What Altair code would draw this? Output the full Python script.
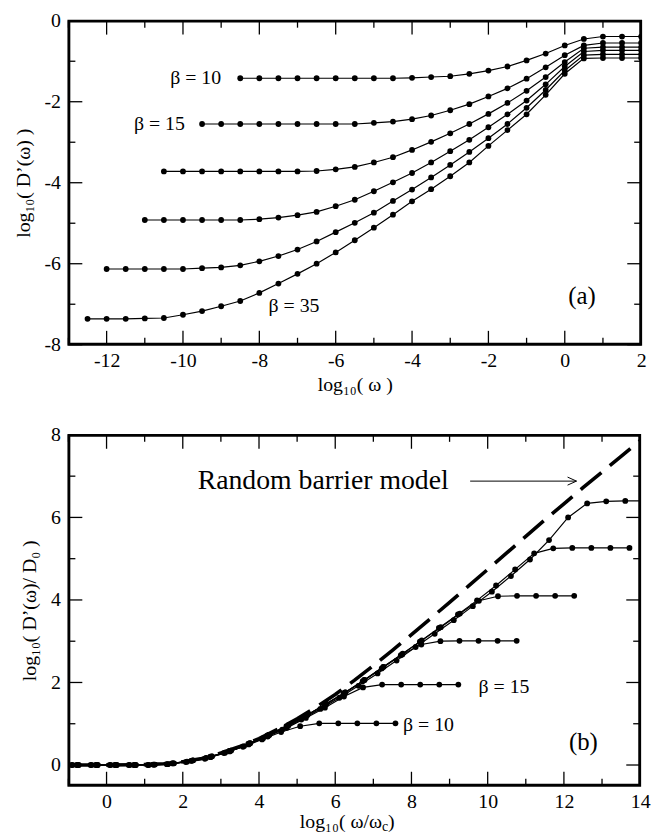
import altair as alt
import pandas as pd

FONT = "Liberation Serif"

# ---------------- Panel (a): log10 D'(w) vs log10 w ----------------
betas = [10, 15, 20, 25, 30, 35]

a_x10 = [-8.5, -8, -7.5, -7, -6.5, -6, -5.5, -5, -4.5, -4, -3.5, -3, -2.5, -2, -1.5, -1, -0.5, 0, 0.5, 1, 1.5, 2]
a_y10 = [-1.42, -1.42, -1.42, -1.42, -1.42, -1.42, -1.42, -1.42, -1.42, -1.41, -1.39, -1.37, -1.31, -1.23,
         -1.13, -0.98, -0.81, -0.61, -0.45, -0.39, -0.39, -0.39]

a_x15 = [-9.5, -9, -8.5, -8, -7.5, -7, -6.5, -6, -5.5, -5, -4.5, -4, -3.5, -3, -2.5, -2, -1.5, -1, -0.5, 0,
         0.5, 1, 1.5, 2]
a_y15 = [-2.55, -2.55, -2.55, -2.55, -2.55, -2.55, -2.55, -2.55, -2.55, -2.52, -2.49, -2.43, -2.34, -2.21,
         -2.06, -1.87, -1.67, -1.43, -1.15, -0.85, -0.61, -0.55, -0.55, -0.55]

a_x20 = [-10.5, -10, -9.5, -9, -8.5, -8, -7.5, -7, -6.5, -6, -5.5, -5, -4.5, -4, -3.5, -3, -2.5, -2, -1.5, -1,
         -0.5, 0, 0.5, 1, 1.5, 2]
a_y20 = [-3.72, -3.72, -3.72, -3.72, -3.72, -3.72, -3.72, -3.72, -3.71, -3.67, -3.61, -3.50, -3.37, -3.19,
         -2.99, -2.78, -2.55, -2.30, -2.03, -1.73, -1.39, -1.02, -0.68, -0.65, -0.65, -0.65]

a_x25 = [-11, -10.5, -10, -9.5, -9, -8.5, -8, -7.5, -7, -6.5, -6, -5.5, -5, -4.5, -4, -3.5, -3, -2.5, -2, -1.5,
         -1, -0.5, 0, 0.5, 1, 1.5, 2]
a_y25 = [-4.92, -4.92, -4.92, -4.92, -4.92, -4.92, -4.90, -4.86, -4.80, -4.72, -4.58, -4.42, -4.21, -3.99,
         -3.76, -3.50, -3.22, -2.94, -2.63, -2.31, -1.97, -1.57, -1.13, -0.76, -0.73, -0.73, -0.73]

a_x30 = [-12, -11.5, -11, -10.5, -10, -9.5, -9, -8.5, -8, -7.5, -7, -6.5, -6, -5.5, -5, -4.5, -4, -3.5, -3,
         -2.5, -2, -1.5, -1, -0.5, 0, 0.5, 1, 1.5, 2]
a_y30 = [-6.13, -6.13, -6.13, -6.13, -6.13, -6.11, -6.09, -6.04, -5.94, -5.81, -5.65, -5.45, -5.22, -4.99,
         -4.74, -4.45, -4.17, -3.87, -3.56, -3.24, -2.90, -2.55, -2.15, -1.71, -1.23, -0.85, -0.83, -0.83, -0.83]

a_x35 = [-12.5, -12, -11.5, -11, -10.5, -10, -9.5, -9, -8.5, -8, -7.5, -7, -6.5, -6, -5.5, -5, -4.5, -4, -3.5,
         -3, -2.5, -2, -1.5, -1, -0.5, 0, 0.5, 1, 1.5, 2]
a_y35 = [-7.36, -7.36, -7.36, -7.35, -7.34, -7.26, -7.17, -7.05, -6.92, -6.72, -6.49, -6.25, -6.00, -5.72,
         -5.42, -5.11, -4.79, -4.46, -4.16, -3.84, -3.50, -3.09, -2.70, -2.31, -1.83, -1.31, -0.93, -0.92,
         -0.92, -0.92]

a_labels = ["β = 10", "β = 15", "β = 35", "(a)"]
a_label_x = [-9.0, -9.95, -7.76, 0.45]
a_label_y = [-1.42, -2.55, -7.04, -6.8]
a_label_align = ["right", "right", "left", "center"]
a_label_size = [20, 20, 20, 25]

a_xmajor = [-12, -10, -8, -6, -4, -2, 0, 2]
a_xminor = [-13, -11, -9, -7, -5, -3, -1, 1]
a_ymajor = [0, -2, -4, -6, -8]
a_yminor = [-1, -3, -5, -7]

# ---------------- Panel (b): scaled curves ----------------
b_x10 = [-1.42, -0.92, -0.42, 0.08, 0.58, 1.08, 1.58, 2.08, 2.58, 3.08, 3.58, 4.08, 4.58, 5.08, 5.58, 6.08,
         6.58, 7.08, 7.58]
b_y10 = [0, 0, 0, 0, 0, 0, 0.02, 0.07, 0.15, 0.29, 0.44, 0.62, 0.80, 0.94, 1.01, 1.01, 1.01, 1.01, 1.01]

b_x15 = [-1.27, -0.77, -0.27, 0.23, 0.73, 1.23, 1.73, 2.23, 2.73, 3.23, 3.73, 4.23, 4.73, 5.23, 5.73, 6.23,
         6.73, 7.23, 7.73, 8.23, 8.73, 9.23]
b_y15 = [0, 0, 0, 0, 0, 0.01, 0.04, 0.10, 0.19, 0.33, 0.50, 0.69, 0.90, 1.14, 1.39, 1.66, 1.88, 1.95, 1.95,
         1.95, 1.95, 1.95]

b_x20 = [-1.24, -0.74, -0.24, 0.26, 0.76, 1.26, 1.76, 2.26, 2.76, 3.26, 3.76, 4.26, 4.76, 5.26, 5.76, 6.26,
         6.76, 7.26, 7.76, 8.26, 8.76, 9.26, 9.76, 10.26, 10.76]
b_y20 = [0, 0, 0, 0, 0, 0.01, 0.04, 0.11, 0.21, 0.35, 0.53, 0.73, 0.96, 1.21, 1.48, 1.76, 2.06, 2.38, 2.68,
         2.92, 3.00, 3.01, 3.01, 3.01, 3.01]

b_x25 = [-1.23, -0.73, -0.23, 0.27, 0.77, 1.27, 1.77, 2.27, 2.77, 3.27, 3.77, 4.27, 4.77, 5.27, 5.77, 6.27,
         6.77, 7.27, 7.77, 8.27, 8.77, 9.27, 9.77, 10.27, 10.77, 11.27, 11.77, 12.27]
b_y25 = [0, 0, 0, 0, 0, 0.01, 0.04, 0.11, 0.21, 0.35, 0.53, 0.73, 0.96, 1.21, 1.48, 1.76, 2.06, 2.38, 2.70,
         3.02, 3.34, 3.67, 3.98, 4.09, 4.10, 4.10, 4.10, 4.10]

b_x30 = [-1.28, -0.78, -0.28, 0.22, 0.72, 1.22, 1.72, 2.22, 2.72, 3.22, 3.72, 4.22, 4.72, 5.22, 5.72, 6.22,
         6.72, 7.22, 7.72, 8.22, 8.72, 9.22, 9.72, 10.22, 10.72, 11.22, 11.72, 12.22, 12.72, 13.22, 13.72]
b_y30 = [0, 0, 0, 0, 0, 0.01, 0.04, 0.10, 0.20, 0.34, 0.52, 0.72, 0.94, 1.19, 1.46, 1.74, 2.03, 2.34, 2.66,
         2.99, 3.32, 3.65, 3.99, 4.35, 4.74, 5.13, 5.25, 5.26, 5.26, 5.26, 5.26]

b_x35 = [-1.39, -0.89, -0.39, 0.11, 0.61, 1.11, 1.61, 2.11, 2.61, 3.11, 3.61, 4.11, 4.61, 5.11, 5.61, 6.11,
         6.61, 7.11, 7.61, 8.11, 8.61, 9.11, 9.61, 10.11, 10.61, 11.11, 11.61, 12.11, 12.61, 13.11, 13.61, 14.11]
b_y35 = [0, 0, 0, 0, 0, 0, 0.02, 0.08, 0.17, 0.30, 0.46, 0.65, 0.86, 1.10, 1.36, 1.63, 1.92, 2.22, 2.53, 2.86,
         3.18, 3.51, 3.85, 4.20, 4.58, 4.98, 5.45, 6.00, 6.34, 6.39, 6.40, 6.40]

rbm_x = [-1, 0, 1, 1.5, 2, 2.5, 3, 3.5, 4, 4.5, 5, 5.5, 6, 6.5, 7, 7.5, 8, 8.5, 9, 9.5, 10, 10.5, 11, 11.5,
         12, 12.5, 13, 13.5, 14]
rbm_y = [0, 0, 0.01, 0.03, 0.08, 0.16, 0.29, 0.45, 0.64, 0.87, 1.12, 1.40, 1.71, 2.05, 2.41, 2.78, 3.16,
         3.55, 3.94, 4.34, 4.74, 5.14, 5.54, 5.94, 6.33, 6.72, 7.10, 7.48, 7.86]

b_labels = ["Random barrier model", "β = 15", "β = 10", "(b)"]
b_label_x = [2.39, 9.76, 7.78, 12.51]
b_label_y = [6.87, 1.9, 0.97, 0.56]
b_label_align = ["left", "left", "left", "center"]
b_label_size = [28, 20, 20, 25]

arrow_x = [9.54]
arrow_x2 = [12.33]
arrow_y = [6.88]

b_xmajor = [0, 2, 4, 6, 8, 10, 12, 14]
b_xminor = [-1, 1, 3, 5, 7, 9, 11, 13]
b_ymajor = [0, 2, 4, 6, 8]
b_yminor = [1, 3, 5, 7]

# ---------------- helpers ----------------
W1, H1 = 578, 327
W2, H2 = 577, 354
MAJ, MIN = 14, 7

AX = dict(ticks=False, tickSize=0, domain=False, grid=False, labelFont=FONT, labelFontSize=20,
          labelColor="black", titleFont=FONT, titleFontSize=20, titleFontWeight="normal",
          titleColor="black", labelExpr="'' + datum.value", labelOverlap=False, labelFlush=False)


def long_df(xs_list, ys_list):
    rows = []
    for b, xs, ys in zip(betas, xs_list, ys_list):
        for x, y in zip(xs, ys):
            rows.append({"beta": b, "x": x, "y": y})
    return pd.DataFrame(rows)


def panel(df, xdom, ydom, xmaj, xmin, ymaj, ymin, xtitle, ytitle, W, H, labels, lx, ly, lal, lsz,
          xlabpad, xtitlepad, extra=None):
    X = lambda f: alt.X(f"{f}:Q", scale=alt.Scale(domain=xdom, nice=False, zero=False),
                        axis=alt.Axis(values=xmaj, title=xtitle, labelPadding=xlabpad,
                                      titlePadding=xtitlepad, **AX))
    Y = lambda f: alt.Y(f"{f}:Q", scale=alt.Scale(domain=ydom, nice=False, zero=False),
                        axis=alt.Axis(values=ymaj, title=ytitle, labelPadding=8, titlePadding=11, **AX))

    layers = []
    # plot frame: closed polyline drawn just inside the domain corners
    ex = (xdom[1] - xdom[0]) / W * 0.8
    ey = (ydom[1] - ydom[0]) / H * 0.8
    frame = pd.DataFrame({
        "x": [xdom[0] + ex, xdom[0] + ex, xdom[1] - ex, xdom[1] - ex, xdom[0] + ex],
        "y": [ydom[0] + ey, ydom[1] - ey, ydom[1] - ey, ydom[0] + ey, ydom[0] + ey],
        "k": [0, 1, 2, 3, 4],
    })
    layers.append(alt.Chart(frame).mark_line(color="black", strokeWidth=2.2, strokeCap="square",
                                             strokeJoin="miter").encode(
        x=X("x"), y=Y("y"), order="k:Q"))

    ticks_x = pd.DataFrame({"v": xmaj + xmin, "L": [MAJ] * len(xmaj) + [MIN] * len(xmin)})
    ticks_y = pd.DataFrame({"v": ymaj + ymin, "L": [MAJ] * len(ymaj) + [MIN] * len(ymin)})
    for L in [MAJ, MIN]:
        tx = ticks_x[ticks_x["L"] == L]
        ty = ticks_y[ticks_y["L"] == L]
        rule = alt.Chart(tx).mark_rule(color="black", strokeWidth=1.3)
        layers.append(rule.encode(x=X("v"), y=alt.value(H), y2=alt.value(H - L)))
        layers.append(rule.encode(x=X("v"), y=alt.value(0), y2=alt.value(L)))
        ruley = alt.Chart(ty).mark_rule(color="black", strokeWidth=1.3)
        layers.append(ruley.encode(y=Y("v"), x=alt.value(0), x2=alt.value(L)))
        layers.append(ruley.encode(y=Y("v"), x=alt.value(W), x2=alt.value(W - L)))

    if extra is not None:
        layers.extend(extra(X, Y))

    base = alt.Chart(df)
    layers.append(base.mark_line(color="black", strokeWidth=1.2, clip=True).encode(
        x=X("x"), y=Y("y"), detail="beta:N", order="x:Q"))
    layers.append(base.mark_point(color="black", filled=True, opacity=1, size=34, clip=True).encode(
        x=X("x"), y=Y("y")))

    lab = pd.DataFrame({"t": labels, "x": lx, "y": ly, "al": lal, "s": lsz})
    for _, r in lab.iterrows():
        d1 = pd.DataFrame({"t": [r["t"]], "x": [r["x"]], "y": [r["y"]]})
        layers.append(alt.Chart(d1).mark_text(font=FONT, fontSize=int(r["s"]), align=r["al"],
                                              baseline="middle", color="black").encode(
            x=X("x"), y=Y("y"), text="t:N"))
    return alt.layer(*layers).properties(width=W, height=H)


df_a = long_df([a_x10, a_x15, a_x20, a_x25, a_x30, a_x35], [a_y10, a_y15, a_y20, a_y25, a_y30, a_y35])
df_b = long_df([b_x10, b_x15, b_x20, b_x25, b_x30, b_x35], [b_y10, b_y15, b_y20, b_y25, b_y30, b_y35])


def extra_b(X, Y):
    out = []
    rbm = pd.DataFrame({"x": rbm_x, "y": rbm_y})
    out.append(alt.Chart(rbm).mark_line(color="black", strokeWidth=3.6, strokeDash=[27, 11],
                                        clip=True).encode(x=X("x"), y=Y("y"), order="x:Q"))
    arr = pd.DataFrame({"x": arrow_x, "x2": arrow_x2, "y": arrow_y})
    out.append(alt.Chart(arr).mark_rule(color="black", strokeWidth=1).encode(
        x=X("x"), x2="x2:Q", y=Y("y")))
    out.append(alt.Chart(arr).mark_point(shape="M -1 -0.45 L 0 0 L -1 0.45", filled=False, size=324,
                                         color="black", strokeWidth=1, opacity=1).encode(
        x=X("x2"), y=Y("y")))
    # x-axis title with subscripts
    tt = pd.DataFrame({"a": ["log₁₀( ω/ω"], "c": ["c"], "e": [" )"]})
    cx = W2 / 2 + 28
    ty = H2 + 37
    out.append(alt.Chart(tt).mark_text(font=FONT, fontSize=20, align="right", baseline="middle",
                                       color="black").encode(x=alt.value(cx), y=alt.value(ty), text="a:N"))
    out.append(alt.Chart(tt).mark_text(font=FONT, fontSize=14, align="left", baseline="middle",
                                       color="black").encode(x=alt.value(cx), y=alt.value(ty + 5), text="c:N"))
    out.append(alt.Chart(tt).mark_text(font=FONT, fontSize=20, align="left", baseline="middle",
                                       color="black").encode(x=alt.value(cx + 6), y=alt.value(ty), text="e:N"))
    return out


top = panel(df_a, [-13, 2], [-8, 0], a_xmajor, a_xminor, a_ymajor, a_yminor,
            "log₁₀( ω )", "log₁₀( D’(ω) )", W1, H1, a_labels, a_label_x, a_label_y, a_label_align,
            a_label_size, 6, 4)
bottom = panel(df_b, [-1, 14], [-0.5, 8], b_xmajor, b_xminor, b_ymajor, b_yminor,
               None, "log₁₀( D’(ω)/ D₀ )", W2, H2, b_labels, b_label_x, b_label_y, b_label_align,
               b_label_size, 6, 1, extra=extra_b)

chart = alt.vconcat(top, bottom, spacing=29).properties(
    padding={"left": 4, "top": -2, "right": 4, "bottom": 0},
    background="white",
).configure_view(stroke="black", strokeWidth=2)

chart.save("out.html", embed_options={"renderer": "svg", "actions": False})
